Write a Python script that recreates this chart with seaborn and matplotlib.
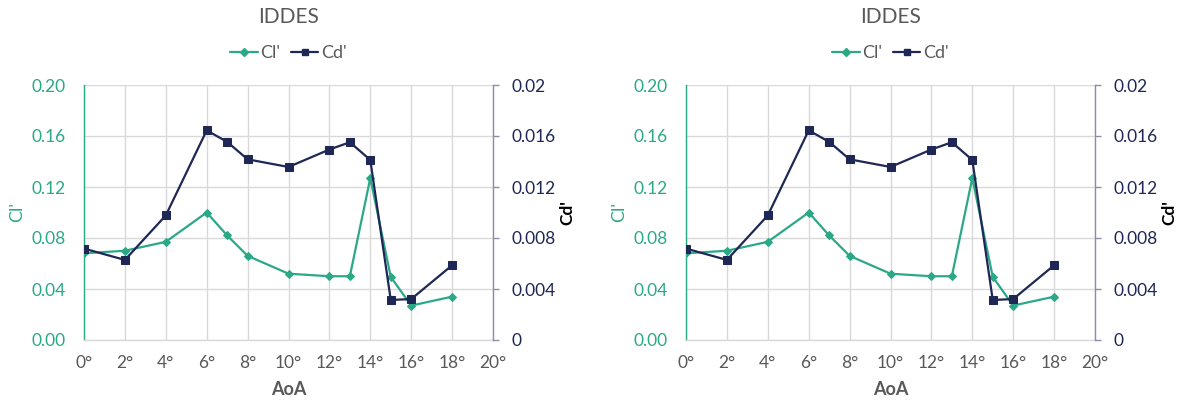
import matplotlib
matplotlib.use("Agg")
import matplotlib.pyplot as plt
import seaborn as sns
import pandas as pd
from matplotlib.lines import Line2D

# ---- data ----
aoa = [0, 2, 4, 6, 7, 8, 10, 12, 13, 14, 15, 16, 18]
cl_prime = [0.068, 0.070, 0.077, 0.100, 0.082, 0.066, 0.052, 0.050, 0.050, 0.127, 0.0495, 0.027, 0.034]
cd_prime = [0.00717, 0.00628, 0.00977, 0.01644, 0.01554, 0.01417, 0.01357, 0.01494, 0.01551, 0.01412, 0.00314, 0.00321, 0.00586]
x_ticks = [0, 2, 4, 6, 8, 10, 12, 14, 16, 18, 20]
cl_ticks = [0.00, 0.04, 0.08, 0.12, 0.16, 0.20]
cd_ticks = [0, 0.004, 0.008, 0.012, 0.016, 0.02]
cd_tick_labels = ["0", "0.004", "0.008", "0.012", "0.016", "0.02"]
titles = ["IDDES", "IDDES"]

sns.set_theme(style="white")
plt.rcParams['font.family'] = ['Lato', 'DejaVu Sans']

TEAL = "#2BA887"
NAVY = "#1F2755"
RSPINE = "#8E8CAA"
GRID = "#D9D9D9"
GRAY = "#595959"

df = pd.DataFrame({"AoA": aoa, "Cl'": cl_prime, "Cd'": cd_prime})

W, H = 1182, 403
fig = plt.figure(figsize=(W / 100, H / 100), dpi=100)

FS = 12.5
panel_lefts = [84, 686]
for i, lp in enumerate(panel_lefts):
    ax = fig.add_axes([lp / W, 63 / H, 409 / W, 255 / H])
    ax2 = ax.twinx()
    sns.lineplot(data=df, x="AoA", y="Cl'", ax=ax, color=TEAL, marker="D",
                 markersize=4, markeredgecolor=TEAL, linewidth=1.6, zorder=3)
    sns.lineplot(data=df, x="AoA", y="Cd'", ax=ax2, color=NAVY, marker="s",
                 markersize=5.2, markeredgecolor=NAVY, linewidth=1.6, zorder=4)
    ax.set_xlim(0, 20)
    ax.set_ylim(0, 0.2)
    ax2.set_ylim(0, 0.02)
    ax.set_xticks(x_ticks)
    ax.set_xticklabels([f"{t}°" for t in x_ticks], color=GRAY, fontsize=FS)
    ax.set_yticks(cl_ticks)
    ax.set_yticklabels([f"{t:.2f}" for t in cl_ticks], color=TEAL, fontsize=FS)
    ax2.set_yticks(cd_ticks)
    ax2.set_yticklabels(cd_tick_labels, color=NAVY, fontsize=FS)
    ax.grid(True, color=GRID, linewidth=1.0)
    ax.set_axisbelow(True)
    ax2.grid(False)
    for sp in ["top", "right"]:
        ax.spines[sp].set_visible(False)
    for sp in ["top", "left", "bottom"]:
        ax2.spines[sp].set_visible(False)
    ax.spines["left"].set_color(TEAL)
    ax.spines["left"].set_linewidth(1.0)
    ax.spines["bottom"].set_color(GRID)
    ax.spines["bottom"].set_linewidth(1.0)
    ax2.spines["right"].set_color(RSPINE)
    ax2.spines["right"].set_linewidth(1.0)
    ax.tick_params(axis="y", length=0, pad=13)
    ax.tick_params(axis="x", length=0, pad=11)
    ax2.tick_params(axis="y", length=4, width=1, color=RSPINE, pad=9, right=True)
    ax.set_xlabel("AoA", color=GRAY, fontsize=FS + 0.5, fontweight="bold", labelpad=7)
    ax.set_ylabel("Cl'", color=TEAL, fontsize=FS + 0.5, labelpad=5)
    ax2.set_ylabel("Cd'", color="black", fontsize=FS, fontweight="bold", labelpad=3)
    cx = (lp + 204.5) / W
    fig.text(cx, 1 - 17 / H, titles[i], ha="center", va="center", fontsize=15, color=GRAY)
    handles = [Line2D([], [], color=TEAL, marker="D", markersize=4, linewidth=1.6),
               Line2D([], [], color=NAVY, marker="s", markersize=5, linewidth=1.6)]
    fig.legend(handles, ["Cl'", "Cd'"], loc="center", bbox_to_anchor=(cx, 1 - 53 / H),
               ncol=2, frameon=False, fontsize=FS + 0.5, handlelength=1.5, handletextpad=0.15,
               columnspacing=0.6, labelcolor=GRAY)

fig.savefig("out.png", dpi=100)
